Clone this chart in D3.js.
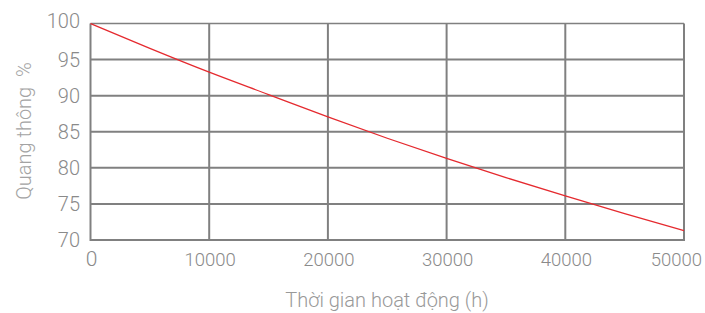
<!DOCTYPE html>
<html>
<head>
<meta charset="utf-8">
<script src="https://cdn.jsdelivr.net/npm/d3@7"></script>
<style>
html,body{margin:0;padding:0;background:#fff;}
svg{display:block;}
text{font-family:Roboto,"DejaVu Sans",sans-serif;font-weight:300;}
</style>
</head>
<body>
<svg id="chart" width="705" height="313"></svg>
<script>
const hours = [0,5000,10000,15000,20000,25000,30000,35000,40000,45000,50000];
const flux  = [100,96.55,93.25,90.15,87.05,84.1,81.3,78.65,76.1,73.65,71.3];
const xTicks = [0,10000,20000,30000,40000,50000];
const yTicks = [70,75,80,85,90,95,100];
const xTitle = "Thời gian hoạt động (h)";
const yTitle = "Quang thông  %";

const svg = d3.select("#chart");
const x = d3.scaleLinear().domain([0,50000]).range([90.5,684]);
const y = d3.scaleLinear().domain([70,100]).range([240,23.5]);

const grid = "#808080";
// horizontal grid lines
svg.append("g").selectAll("line").data(yTicks).join("line")
  .attr("x1", x(0)).attr("x2", x(50000))
  .attr("y1", d=>y(d)).attr("y2", d=>y(d))
  .attr("stroke", grid)
  .attr("stroke-width", d=> d===100 ? 1.3 : 2);
// vertical grid lines
svg.append("g").selectAll("line").data(xTicks).join("line")
  .attr("x1", d=>x(d)).attr("x2", d=>x(d))
  .attr("y1", y(100)).attr("y2", y(70)+1)
  .attr("stroke", grid).attr("stroke-width", 2);

// y tick labels
svg.append("g").selectAll("text").data(yTicks).join("text")
  .attr("x", 80).attr("y", d=>y(d) + (d===100 ? -3 : 0))
  .attr("text-anchor","end").attr("dominant-baseline","central")
  .attr("fill","#8a8a8a").attr("font-size", 20)
  .text(d=>d);

// x tick labels
svg.append("g").selectAll("text").data(xTicks).join("text")
  .attr("x", d=> d===50000 ? x(d)+18 : x(d)+1)
  .attr("y", 266)
  .attr("text-anchor", d=> d===50000 ? "end" : "middle")
  .attr("fill","#8a8a8a")
  .attr("font-size", d=> d===0 ? 21 : 18.5)
  .text(d=>d);

// line
const line = d3.line().x((d,i)=>x(hours[i])).y(d=>y(d)).curve(d3.curveMonotoneX);
svg.append("path").datum(flux)
  .attr("d", line).attr("fill","none")
  .attr("stroke","#e52a2f").attr("stroke-width",1.3);

// titles
svg.append("text").attr("x", 387).attr("y", 307)
  .attr("text-anchor","middle").attr("fill","#999").attr("font-size",20)
  .style("white-space","pre")
  .text(xTitle);
svg.append("text").attr("transform","translate(31,131) rotate(-90)")
  .attr("text-anchor","middle").attr("fill","#a3a3a3").attr("font-size",20)
  .style("white-space","pre")
  .text(yTitle);
</script>
</body>
</html>
